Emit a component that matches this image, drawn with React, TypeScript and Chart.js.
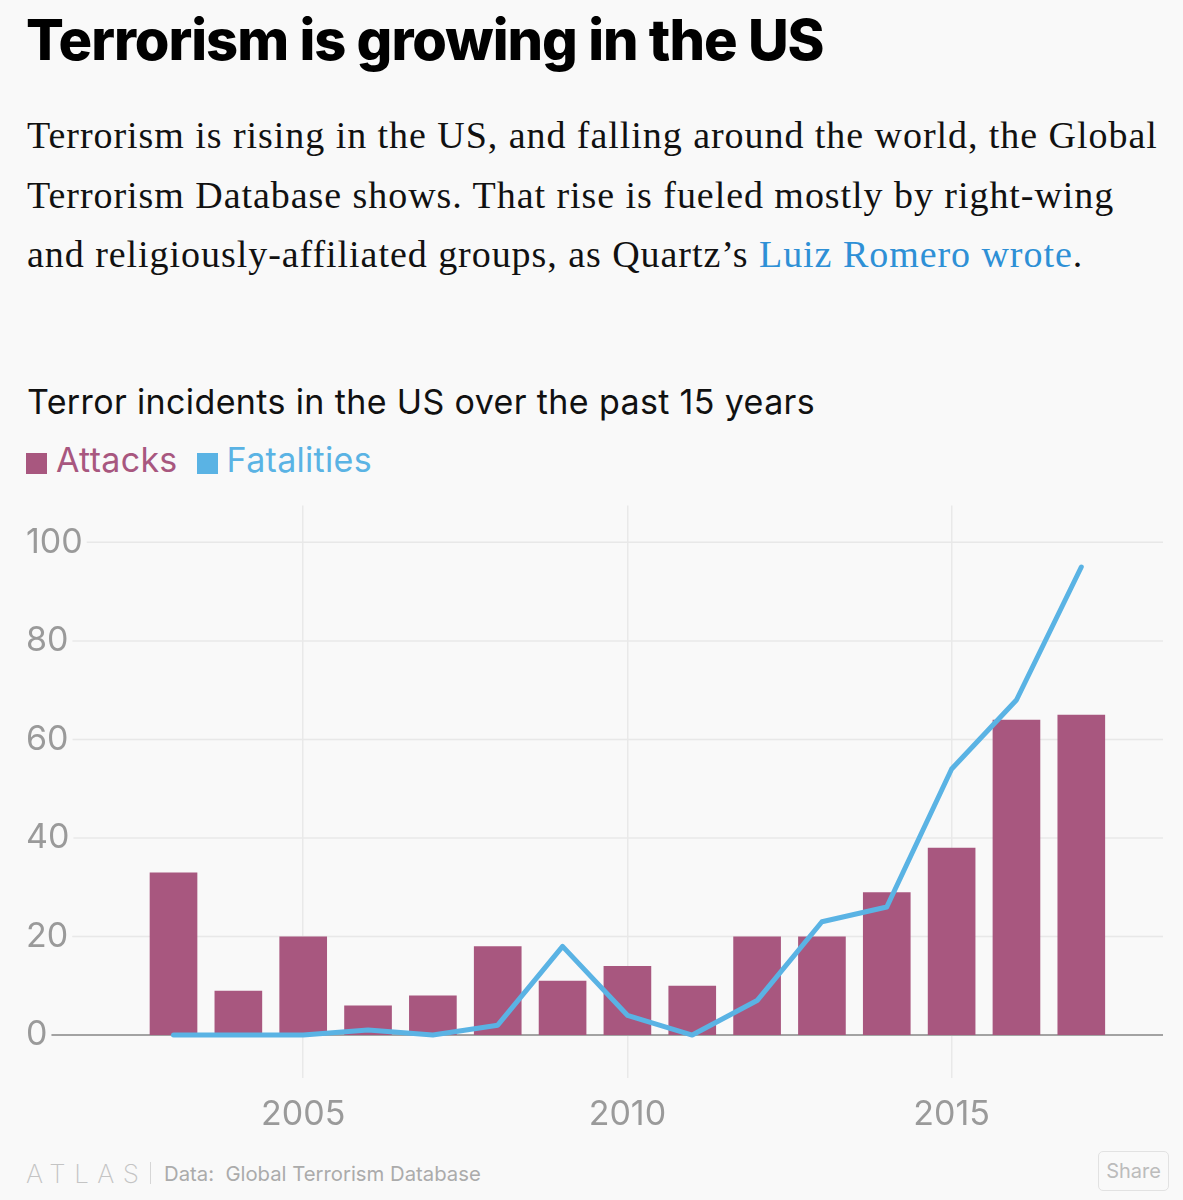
import React, { useEffect, useRef } from "react";
import { Chart, registerables } from "chart.js";

Chart.register(...registerables);

const years = [2003, 2004, 2005, 2006, 2007, 2008, 2009, 2010, 2011, 2012, 2013, 2014, 2015, 2016, 2017];
const attacks = [33, 9, 20, 6, 8, 18, 11, 14, 10, 20, 20, 29, 38, 64, 65];
const fatalities = [0, 0, 0, 1, 0, 2, 18, 4, 0, 7, 23, 26, 54, 68, 95];
const xTicks = [2005, 2010, 2015];
const yTicks = [0, 20, 40, 60, 80, 100];

const ATTACK_COLOR = "#a8577f";
const FATAL_COLOR = "#5ab3e4";
const TICK_COLOR = "#9a9a9a";
const TICK_FONT = "Inter";
const TICK_SIZE = 34;

const hGridPlugin = {
  id: "hGrid",
  beforeDatasetsDraw(chart: any) {
    const { ctx, chartArea, scales } = chart;
    const y = scales.y;
    ctx.save();
    ctx.font = `${TICK_SIZE}px ${TICK_FONT}`;
    y.ticks.forEach((t: any) => {
      const label = String(t.value);
      const w = ctx.measureText(label).width;
      const py = y.getPixelForValue(t.value);
      ctx.beginPath();
      ctx.lineWidth = t.value === 0 ? 2 : 1.5;
      ctx.strokeStyle = t.value === 0 ? "#a3a3a3" : "#e8e8e8";
      ctx.moveTo(chartArea.left + w + 4, py);
      ctx.lineTo(chartArea.right, py);
      ctx.stroke();
    });
    ctx.restore();
  },
};

function TerrorChart() {
  const ref = useRef<HTMLCanvasElement | null>(null);
  useEffect(() => {
    if (!ref.current) return;
    const chart = new Chart(ref.current, {
      type: "bar",
      data: {
        datasets: [
          {
            type: "line",
            label: "Fatalities",
            data: years.map((x, i) => ({ x, y: fatalities[i] })),
            borderColor: FATAL_COLOR,
            borderWidth: 5,
            pointRadius: 0,
            tension: 0,
            borderCapStyle: "round",
            borderJoinStyle: "round",
            order: 0,
          } as any,
          {
            type: "bar",
            label: "Attacks",
            data: years.map((x, i) => ({ x, y: attacks[i] })),
            backgroundColor: ATTACK_COLOR,
            barPercentage: 0.735,
            categoryPercentage: 1,
            order: 1,
          } as any,
        ],
      },
      options: {
        animation: false,
        responsive: false,
        maintainAspectRatio: false,
        layout: { padding: { left: 26, right: 20, top: 0, bottom: 0 } },
        plugins: { legend: { display: false }, tooltip: { enabled: false } },
        scales: {
          x: {
            type: "linear",
            min: 2000.725,
            max: 2018.26,
            offset: false,
            afterBuildTicks: (s: any) => {
              s.ticks = xTicks.map((v) => ({ value: v }));
            },
            afterFit: (s: any) => {
              s.height = 62;
            },
            grid: { display: true, offset: false, color: "#e9e9e9", lineWidth: 1.5, drawTicks: false },
            border: { display: false },
            ticks: {
              color: TICK_COLOR,
              font: { family: TICK_FONT, size: TICK_SIZE },
              padding: 16,
              maxRotation: 0,
              autoSkip: false,
              callback: (v: any) => String(v),
            },
          },
          y: {
            type: "linear",
            min: -8.72,
            max: 107.5,
            afterBuildTicks: (s: any) => {
              s.ticks = yTicks.map((v) => ({ value: v }));
            },
            afterFit: (s: any) => {
              s.width = 0;
            },
            grid: { display: false, drawTicks: false },
            border: { display: false },
            ticks: {
              mirror: true,
              padding: 0,
              color: TICK_COLOR,
              font: { family: TICK_FONT, size: TICK_SIZE },
              callback: (v: any) => String(v),
            },
          },
        },
      },
      plugins: [hGridPlugin],
    } as any);
    return () => chart.destroy();
  }, []);
  return (
    <canvas
      ref={ref}
      width={1183}
      height={655}
      style={{ position: "absolute", left: 0, top: 485, width: 1183, height: 655 }}
    />
  );
}

export default function App() {
  const sans = "Inter, 'Noto Sans', sans-serif";
  return (
    <div
      style={{
        position: "absolute",
        left: 0,
        top: 0,
        width: 1183,
        height: 1200,
        background: "#f9f9f9",
        overflow: "hidden",
      }}
    >
      <div
        style={{
          position: "absolute",
          left: 26,
          top: 12,
          fontFamily: sans,
          fontWeight: 800,
          fontSize: 56,
          lineHeight: "56px",
          letterSpacing: -1,
          color: "#000",
          whiteSpace: "nowrap",
        }}
      >
        Terrorism is growing in the US
      </div>
      <div
        style={{
          position: "absolute",
          left: 27,
          top: 106,
          fontFamily: "'Liberation Serif', serif",
          fontSize: 38,
          letterSpacing: 0.95,
          lineHeight: "59.5px",
          color: "#111",
          whiteSpace: "nowrap",
        }}
      >
        <div>Terrorism is rising in the US, and falling around the world, the Global</div>
        <div>Terrorism Database shows. That rise is fueled mostly by right-wing</div>
        <div>
          and religiously-affiliated groups, as Quartz’s{" "}
          <span style={{ color: "#2e90d6" }}>Luiz Romero wrote</span>.
        </div>
      </div>
      <div
        style={{
          position: "absolute",
          left: 27,
          top: 385,
          fontFamily: sans,
          fontSize: 34,
          letterSpacing: 0.37,
          lineHeight: "34px",
          color: "#111",
          whiteSpace: "nowrap",
        }}
      >
        Terror incidents in the US over the past 15 years
      </div>
      <div
        style={{
          position: "absolute",
          left: 26,
          top: 443,
          fontFamily: sans,
          fontSize: 34,
          letterSpacing: 0.3,
          lineHeight: "34px",
          whiteSpace: "nowrap",
          display: "flex",
          alignItems: "center",
        }}
      >
        <span style={{ display: "inline-block", width: 21, height: 21, background: ATTACK_COLOR, marginRight: 9, marginTop: 6 }} />
        <span style={{ color: ATTACK_COLOR, marginRight: 19 }}>Attacks</span>
        <span style={{ display: "inline-block", width: 21, height: 21, background: FATAL_COLOR, marginRight: 9, marginTop: 6 }} />
        <span style={{ color: FATAL_COLOR }}>Fatalities</span>
      </div>
      <TerrorChart />
      <div
        style={{
          position: "absolute",
          left: 26,
          top: 1158,
          height: 30,
          display: "flex",
          alignItems: "center",
          fontFamily: sans,
          whiteSpace: "nowrap",
        }}
      >
        <span style={{ fontSize: 26, fontWeight: 200, letterSpacing: 8.5, color: "#c4c4c4" }}>ATLAS</span>
        <span style={{ display: "inline-block", width: 1.5, height: 22, background: "#d6d6d6", marginLeft: 2, marginRight: 13 }} />
        <span style={{ fontSize: 20.3, color: "#ababab" }}>Data:&nbsp; Global Terrorism Database</span>
      </div>
      <div
        style={{
          position: "absolute",
          left: 1098,
          top: 1151,
          width: 71,
          height: 40,
          border: "1.5px solid #e2e2e2",
          borderRadius: 5,
          boxSizing: "border-box",
          display: "flex",
          alignItems: "center",
          justifyContent: "center",
          fontFamily: sans,
          fontSize: 20,
          color: "#bcbcbc",
        }}
      >
        Share
      </div>
    </div>
  );
}
